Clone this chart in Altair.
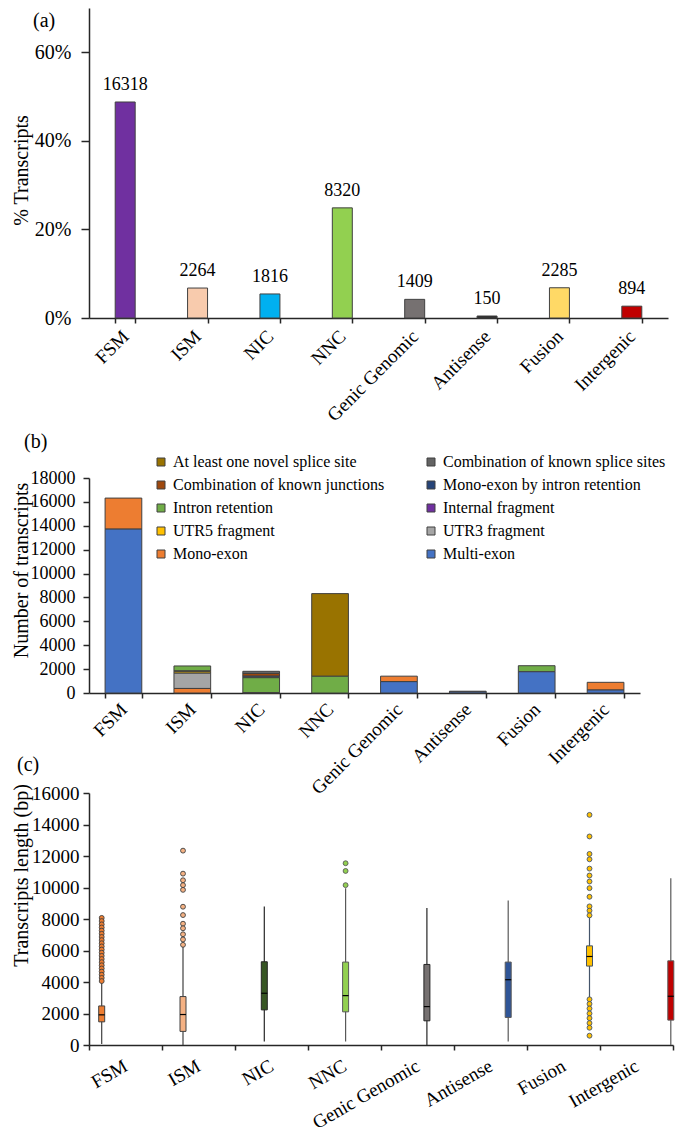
import altair as alt
import pandas as pd

FONT = "Liberation Serif"

# ---------------- data ----------------
categories = ["FSM", "ISM", "NIC", "NNC", "Genic Genomic", "Antisense", "Fusion", "Intergenic"]
counts = [16318, 2264, 1816, 8320, 1409, 150, 2285, 894]
colors_a = ["#7030A0", "#F8CBAD", "#00B0F0", "#92D050", "#767171", "#262626", "#FFD966", "#C00000"]
ticks_a = [0, 0.2, 0.4, 0.6]

subtypes = [
    "At least one novel splice site", "Combination of known splice sites",
    "Combination of known junctions", "Mono-exon by intron retention",
    "Intron retention", "Internal fragment",
    "UTR5  fragment", "UTR3  fragment",
    "Mono-exon", "Multi-exon",
]
colors_b = ["#997300", "#636363", "#9E480E", "#264478", "#70AD47",
            "#7030A0", "#FFC000", "#A5A5A5", "#ED7D31", "#4472C4"]
novel_splice = [0, 0, 0, 6920, 0, 0, 0, 0]
known_splice_sites = [0, 0, 186, 0, 0, 0, 0, 0]
known_junctions = [0, 0, 220, 0, 0, 0, 0, 0]
mono_exon_ir = [0, 0, 130, 0, 0, 0, 0, 0]
intron_retention = [0, 414, 1250, 1400, 0, 0, 505, 0]
internal_fragment = [0, 60, 0, 0, 0, 0, 0, 0]
utr5_fragment = [0, 130, 0, 0, 0, 0, 0, 0]
utr3_fragment = [0, 1280, 0, 0, 0, 0, 0, 0]
mono_exon = [2598, 380, 30, 0, 459, 50, 0, 644]
multi_exon = [13720, 0, 0, 0, 950, 100, 1780, 250]
ticks_b = [0, 2000, 4000, 6000, 8000, 10000, 12000, 14000, 16000, 18000]

colors_c = ["#ED7D31", "#F4B183", "#375623", "#92D050", "#767171", "#2F5597", "#FFC000", "#C00000"]
line_c = ["#404040", "#404040", "#262626", "#595959", "#262626", "#595959", "#44546A", "#595959"]
whisker_low = [60, 0, 230, 230, 0, 230, 3000, 0]
q1 = [1470, 865, 2230, 2105, 1535, 1750, 5010, 1580]
median = [1915, 1935, 3285, 3135, 2440, 4145, 5620, 3095]
q3 = [2480, 3075, 5285, 5265, 5115, 5265, 6295, 5345]
whisker_high = [4000, 6300, 8800, 9960, 8700, 9180, 8100, 10590]
outliers_fsm = [8070, 7870, 7660, 7460, 7260, 7060, 6860, 6660, 6460, 6260, 6060,
                5860, 5660, 5460, 5260, 5060, 4860, 4660, 4460, 4260, 4060]
outliers_ism = [12340, 10880, 10460, 10150, 9850, 8780, 8250, 7700, 7410, 7030, 6700, 6360]
outliers_nnc = [11540, 11050, 10150]
outliers_fusion = [14610, 13240, 12130, 11790, 11200, 10760, 10380, 9960, 9410, 8800,
                   8530, 8230, 2900, 2610, 2315, 2000, 1705, 1390, 1095, 590]
ticks_c = [0, 2000, 4000, 6000, 8000, 10000, 12000, 14000, 16000]

# ---------------- tables ----------------
total = sum(counts)
df_a = pd.DataFrame({"cat": categories, "count": counts,
                     "pct": [c / total for c in counts]})

series_b = [novel_splice, known_splice_sites, known_junctions, mono_exon_ir,
            intron_retention, internal_fragment, utr5_fragment, utr3_fragment,
            mono_exon, multi_exon]
rows = []
for k, (name, vals) in enumerate(zip(subtypes, series_b)):
    for cat, v in zip(categories, vals):
        if v > 0:
            rows.append({"cat": cat, "subtype": name, "value": v,
                         "ord": len(subtypes) - k})
df_b = pd.DataFrame(rows)
# legend is filled column by column: list the left column first, then the right one
legend_order = subtypes[0::2] + subtypes[1::2]
legend_colors = colors_b[0::2] + colors_b[1::2]

df_box = pd.DataFrame({"cat": categories, "low": whisker_low, "q1": q1,
                       "med": median, "q3": q3, "high": whisker_high})
out_rows = []
for cat, lst in [("FSM", outliers_fsm), ("ISM", outliers_ism),
                 ("NNC", outliers_nnc), ("Fusion", outliers_fusion)]:
    for v in lst:
        out_rows.append({"cat": cat, "value": v})
df_out = pd.DataFrame(out_rows)

AX = dict(labelFont=FONT, titleFont=FONT, labelColor="black", titleColor="black",
          domainColor="#262626", tickColor="#262626", domainWidth=1.5, tickWidth=1.5,
          grid=False, titleFontWeight="normal", labelOverlap=False)


def panel_label(txt, x, y):
    return alt.Chart(pd.DataFrame({"t": [txt]})).mark_text(
        align="left", baseline="top", font=FONT, fontSize=20, color="black"
    ).encode(x=alt.value(x), y=alt.value(y), text="t:N")


# ---------------- panel (a) ----------------
W_A, H_A = 579, 310
xa = alt.X("cat:N", sort=categories,
           scale=alt.Scale(domain=categories, paddingInner=0.724, paddingOuter=0.362),
           axis=alt.Axis(title=None, labelAngle=-45, tickBand="extent",
                         labelFontSize=19, labelPadding=10, tickSize=5,
                         labelAlign="right", labelBaseline="middle", **AX))
ya = alt.Y("pct:Q", scale=alt.Scale(domain=[0, 0.7], nice=False),
           axis=alt.Axis(values=ticks_a, format=".0%", title="% Transcripts",
                         titleFontSize=20, titleX=-58, titleY=162,
                         labelFontSize=20, tickSize=8, labelPadding=10, **AX))
bars_a = alt.Chart(df_a).mark_bar(stroke="#404040", strokeWidth=1).encode(
    x=xa, y=ya,
    color=alt.Color("cat:N", scale=alt.Scale(domain=categories, range=colors_a), legend=None))
text_a = alt.Chart(df_a).mark_text(baseline="bottom", dy=-8, font=FONT, fontSize=18,
                                    color="black").encode(x=xa, y=ya, text="count:Q")
chart_a = alt.layer(bars_a, text_a, panel_label("(a)", -56, 3)).properties(width=W_A, height=H_A)

# ---------------- panel (b) ----------------
EXTRA_B = 60
W_B, H_B = 551, 215
xb = alt.X("cat:N", sort=categories,
           scale=alt.Scale(domain=categories, paddingInner=0.467, paddingOuter=0.2335),
           axis=alt.Axis(title=None, labelAngle=-45, tickBand="extent",
                         labelFontSize=19, labelPadding=8, tickSize=5,
                         labelAlign="right", labelBaseline="middle", **AX))
yb = alt.Y("value:Q", stack="zero",
           scale=alt.Scale(domain=[0, 18000], nice=False, range=[H_B + EXTRA_B, EXTRA_B]),
           axis=alt.Axis(values=ticks_b, format="d", title="Number of transcripts",
                         titleFontSize=20, titleX=-58, titleY=92 + EXTRA_B,
                         labelFontSize=18, tickSize=6, labelPadding=8, **AX))
bars_b = alt.Chart(df_b).mark_bar(stroke="#404040", strokeWidth=1).encode(
    x=xb, y=yb,
    color=alt.Color("subtype:N",
                    scale=alt.Scale(domain=legend_order, range=legend_colors),
                    legend=alt.Legend(title=None, orient="none", legendX=64,
                                      legendY=-24 + EXTRA_B,
                                      columns=2, gridAlign="each", columnPadding=38,
                                      rowPadding=7, symbolType="square", symbolSize=64,
                                      symbolStrokeColor="#404040", symbolStrokeWidth=1,
                                      labelFont=FONT, labelFontSize=16, labelColor="black",
                                      labelOffset=4, labelLimit=400, padding=0)),
    order=alt.Order("ord:Q", sort="ascending"))
chart_b = alt.layer(bars_b, panel_label("(b)", -65, -46 + EXTRA_B)).properties(
    width=W_B, height=H_B + EXTRA_B)

# ---------------- panel (c) ----------------
W_C, H_C = 584, 252
xc_axis = alt.X("cat:N", sort=categories,
                scale=alt.Scale(domain=categories, paddingInner=0, paddingOuter=0),
                axis=alt.Axis(title=None, labelAngle=-30, tickBand="extent",
                              labelFontSize=19, labelPadding=14, tickSize=5,
                              labelAlign="right", labelBaseline="middle", **AX))
box_range = [12.7 - 40.65, 12.7 - 40.65 + 8 * 81.3]
xc = alt.X("cat:N", sort=categories,
           scale=alt.Scale(domain=categories, range=box_range, paddingInner=0, paddingOuter=0),
           axis=None)
yc_axis = alt.Axis(values=ticks_c, format="d", title="Transcripts length (bp)",
                   titleFontSize=20, titleX=-58, titleY=82,
                   labelFontSize=19, tickSize=6, labelPadding=4, **AX)
ysc = alt.Scale(domain=[0, 16000], nice=False)

axis_layer = alt.Chart(pd.DataFrame({"cat": categories})).mark_point(opacity=0).encode(x=xc_axis)
whisk = alt.Chart(df_box).mark_rule(strokeWidth=1.2).encode(
    x=xc, y=alt.Y("low:Q", scale=ysc, axis=yc_axis), y2="high:Q",
    color=alt.Color("cat:N", scale=alt.Scale(domain=categories, range=line_c), legend=None))
boxes = alt.Chart(df_box).mark_bar(width=6, strokeWidth=1).encode(
    x=xc, y=alt.Y("q1:Q", scale=ysc, axis=yc_axis), y2="q3:Q",
    fill=alt.Fill("cat:N", scale=alt.Scale(domain=categories, range=colors_c), legend=None),
    stroke=alt.Stroke("cat:N", scale=alt.Scale(domain=categories, range=line_c), legend=None))
meds = alt.Chart(df_box).mark_tick(size=6, thickness=1.2, color="black", opacity=1).encode(
    x=xc, y=alt.Y("med:Q", scale=ysc, axis=yc_axis))
outs = alt.Chart(df_out).mark_point(shape="circle", size=24, strokeWidth=0.9, opacity=1,
                                    filled=True).encode(
    x=xc, y=alt.Y("value:Q", scale=ysc, axis=yc_axis),
    fill=alt.Fill("cat:N", scale=alt.Scale(domain=categories, range=colors_c), legend=None),
    stroke=alt.Stroke("cat:N", scale=alt.Scale(domain=categories, range=line_c), legend=None))
chart_c = alt.layer(axis_layer, whisk, boxes, meds, outs, panel_label("(c)", -72, -38)).resolve_scale(
    x="independent", color="independent", fill="independent", stroke="independent"
).properties(width=W_C, height=H_C)

chart = alt.vconcat(chart_a, chart_b, chart_c, spacing=100, bounds="flush").resolve_scale(
    x="independent", y="independent", color="independent", fill="independent",
    stroke="independent"
).properties(padding={"left": 3, "top": 0, "right": 0, "bottom": 20}).configure_view(
    stroke=None).configure_text(font=FONT).configure_legend(labelFont=FONT, labelFontSize=16)

chart.save("out.html", embed_options={"renderer": "svg", "actions": False})
